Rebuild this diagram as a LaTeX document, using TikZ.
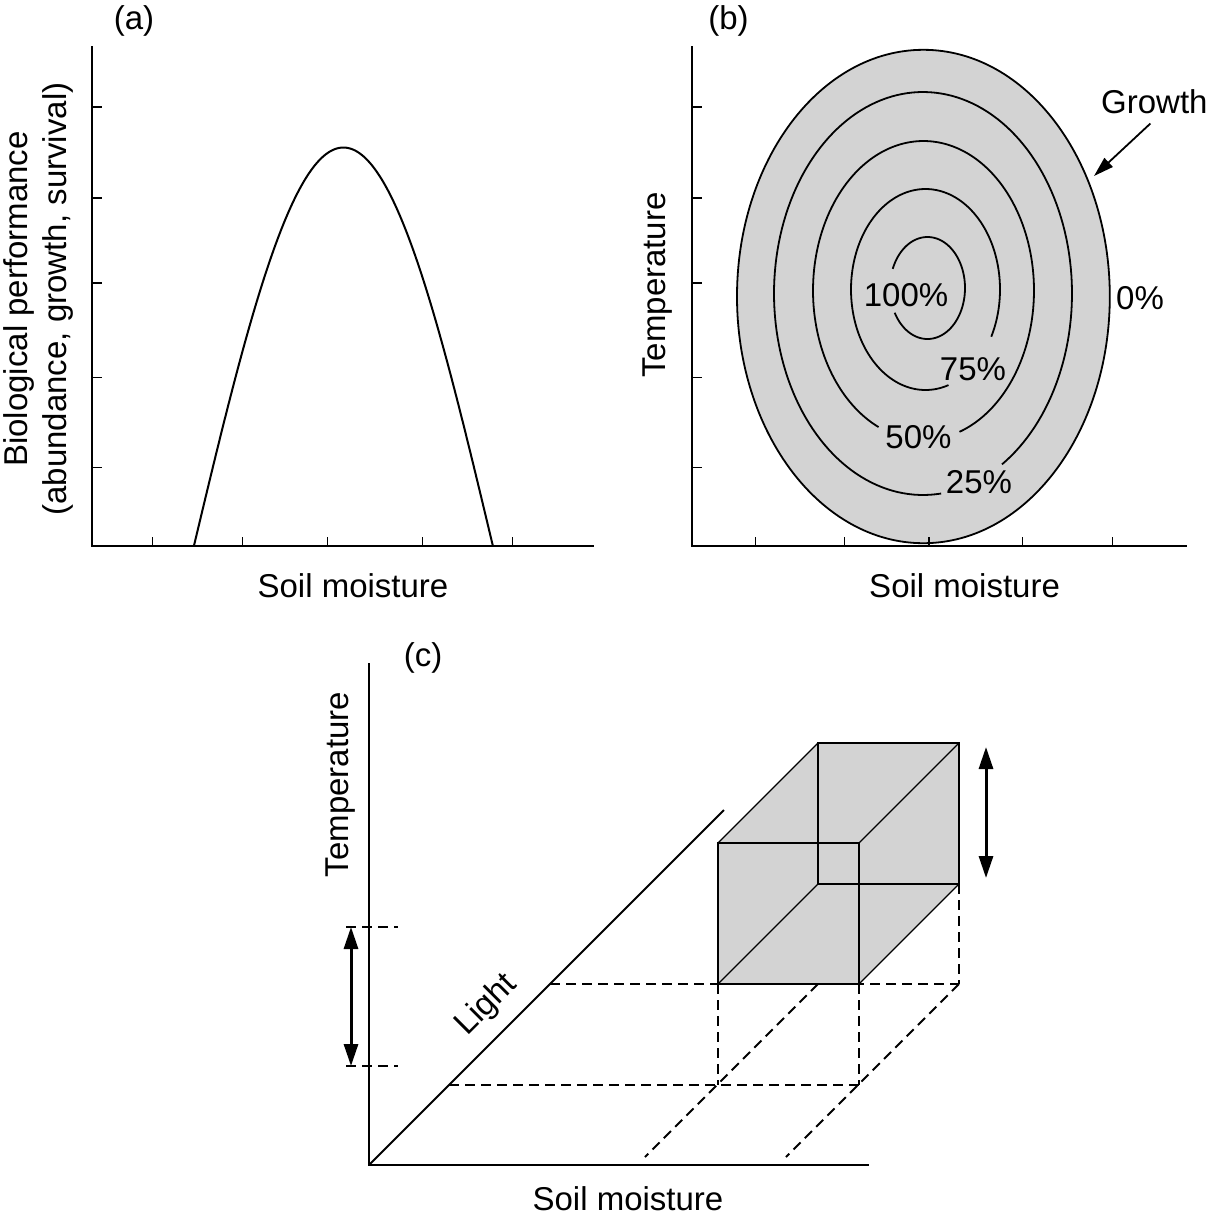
\documentclass[tikz,border=0pt]{standalone}
\usepackage{fontspec}
\setmainfont{Liberation Sans}
\usetikzlibrary{arrows.meta}
\definecolor{fillgray}{RGB}{211,211,211}
\begin{document}
\begin{tikzpicture}[x=1pt,y=-1pt,
  axis/.style={line width=2pt},
  tickmark/.style={line width=1.6pt},
  lbl/.style={inner sep=0pt, font=\fontsize{33}{40}\selectfont},
  curveline/.style={line width=2pt},
  contour/.style={line width=1.8pt},
  boxedge/.style={line width=1.1pt},
  dashline/.style={line width=1.8pt, dash pattern=on 10pt off 6pt},
  dblarrow/.style={line width=3pt, {Triangle[length=22pt,width=14pt]}-{Triangle[length=22pt,width=14pt]}}
]
\useasboundingbox (0,0) rectangle (1207,1219);

% ---------------- panel (a)
\coordinate (aO) at (92,546);
\coordinate (aY) at (92,46);
\coordinate (aX) at (594,546);
\draw[axis] (aY) -- (aO) -- (aX);
\foreach \y in {106.7,197.7,282.9,377.4,467.6} \draw[tickmark] (92,\y) -- (102,\y);
\foreach \x in {152.4,242.6,327.4,422.3,512.5} \draw[tickmark] (\x,546) -- (\x,537);
\draw[curveline] plot[domain=-149.5:149.5, samples=151] ({343.4+\x},{546-398.5*cos(90*\x/149.5)});
\node[lbl, anchor=base] (alab) at (134,29.6) {(a)};
\node[lbl, anchor=base] (axlab) at (353,597) {Soil moisture};
\node[lbl, anchor=base, rotate=90] (aylab1) at (27.5,299) {Biological performance};
\node[lbl, anchor=base, rotate=90] (aylab2) at (66.8,299) {(abundance, growth, survival)};

% ---------------- panel (b)
\filldraw[fill=fillgray, contour] (923.4,296.5) ellipse [x radius=186.4pt, y radius=246.7pt];
\draw[contour] plot[domain=-58:277, samples=160] ({923+149*cos(\x)},{293.5-201.5*sin(\x)});
\draw[contour] plot[domain=-71:246, samples=160] ({923.5+110.5*cos(\x)},{290.5-149.5*sin(\x)});
\draw[contour] plot[domain=-28:288, samples=160] ({925.5+74.5*cos(\x)},{289.5-100.5*sin(\x)});
\draw[contour] plot[domain=209:518, samples=120] ({927.5+37.5*cos(\x)},{288-51*sin(\x)});
\coordinate (bO) at (692,546);
\coordinate (bY) at (692,46);
\coordinate (bX) at (1187,546);
\draw[axis] (bY) -- (bO) -- (bX);
\foreach \y in {106.7,197.7,282.9,377.4,467.6} \draw[tickmark] (692,\y) -- (702,\y);
\foreach \x in {755.5,844.5,929,1022.3,1112.5} \draw[tickmark] (\x,546) -- (\x,537);
\node[lbl] (p100) at (906,295) {100\%};
\node[lbl] (p75) at (973,369.5) {75\%};
\node[lbl] (p50) at (918.5,437.5) {50\%};
\node[lbl] (p25) at (979,482.5) {25\%};
\node[lbl] (p0) at (1140,298.5) {0\%};
\node[lbl, anchor=base west] (grow) at (1101,113) {Growth};
\coordinate (gtip) at (1094,176);
\draw[line width=1.8pt, -{Triangle[length=20pt,width=12pt]}] ([shift={(-4pt,-10pt)}]grow.south) -- (gtip);
\node[lbl, anchor=base] (blab) at (728.5,29.6) {(b)};
\node[lbl, anchor=base] (bxlab) at (964.6,597) {Soil moisture};
\node[lbl, anchor=base, rotate=90] (bylab) at (665.6,285) {Temperature};

% ---------------- panel (c)
\coordinate (cO) at (369,1165);
\coordinate (cY) at (369,663);
\coordinate (cX) at (869,1165);
\coordinate (cL) at (724,810);
% box corners
\coordinate (fbl) at (718,984);
\coordinate (fbr) at (859,984);
\coordinate (ftl) at (718,843);
\coordinate (ftr) at (859,843);
\coordinate (bbl) at (818,884);
\coordinate (bbr) at (959,884);
\coordinate (btl) at (818,743);
\coordinate (btr) at (959,743);
% floor projection
\coordinate (gbl) at (818,984);
\coordinate (gbr) at (959,984);
\coordinate (gfl) at (718,1085);
\coordinate (gfr) at (859,1085);
\coordinate (la1) at (550,984);
\coordinate (la2) at (449,1085);
\coordinate (d1) at (645,1157);
\coordinate (d2) at (786,1157);
% temperature range marks
\coordinate (t1a) at (346,927);
\coordinate (t1b) at (398,927);
\coordinate (t2a) at (346,1066);
\coordinate (t2b) at (398,1066);
\coordinate (ar1) at (351,927);
\coordinate (ar2) at (351,1066);
\coordinate (ar3) at (986,747);
\coordinate (ar4) at (986,878);

\fill[fillgray] (fbl) -- (ftl) -- (btl) -- (btr) -- (bbr) -- (fbr) -- cycle;
\draw[dashline] (la1) -- (gbr);
\draw[dashline] (la2) -- (gfr);
\draw[dashline] (fbl) -- (gfl);
\draw[dashline] (fbr) -- (gfr);
\draw[dashline] (bbr) -- (gbr);
\draw[dashline] (gbl) -- (d1);
\draw[dashline] (gbr) -- (d2);
\draw[dashline] (t1a) -- (t1b);
\draw[dashline] (t2a) -- (t2b);

\draw[boxedge] (ftl) rectangle (fbr);
\draw[boxedge] (btl) rectangle (bbr);
\draw[boxedge] (ftl) -- (btl);
\draw[boxedge] (ftr) -- (btr);
\draw[boxedge] (fbr) -- (bbr);
\draw[boxedge] (fbl) -- (bbl);
\draw[line width=2pt] (fbl) -- (fbr);

\draw[axis] (cY) -- (cO) -- (cX);
\draw[axis] (cO) -- (cL);
\draw[dblarrow] (ar1) -- (ar2);
\draw[dblarrow] (ar3) -- (ar4);

\node[lbl, anchor=base] (clab) at (423,666) {(c)};
\node[lbl, anchor=base] (cxlab) at (628,1210) {Soil moisture};
\node[lbl, anchor=base, rotate=90] (cylab) at (348,784.5) {Temperature};
\node[lbl, rotate=45] (llab) at (487,1005) {Light};
\end{tikzpicture}
\end{document}
